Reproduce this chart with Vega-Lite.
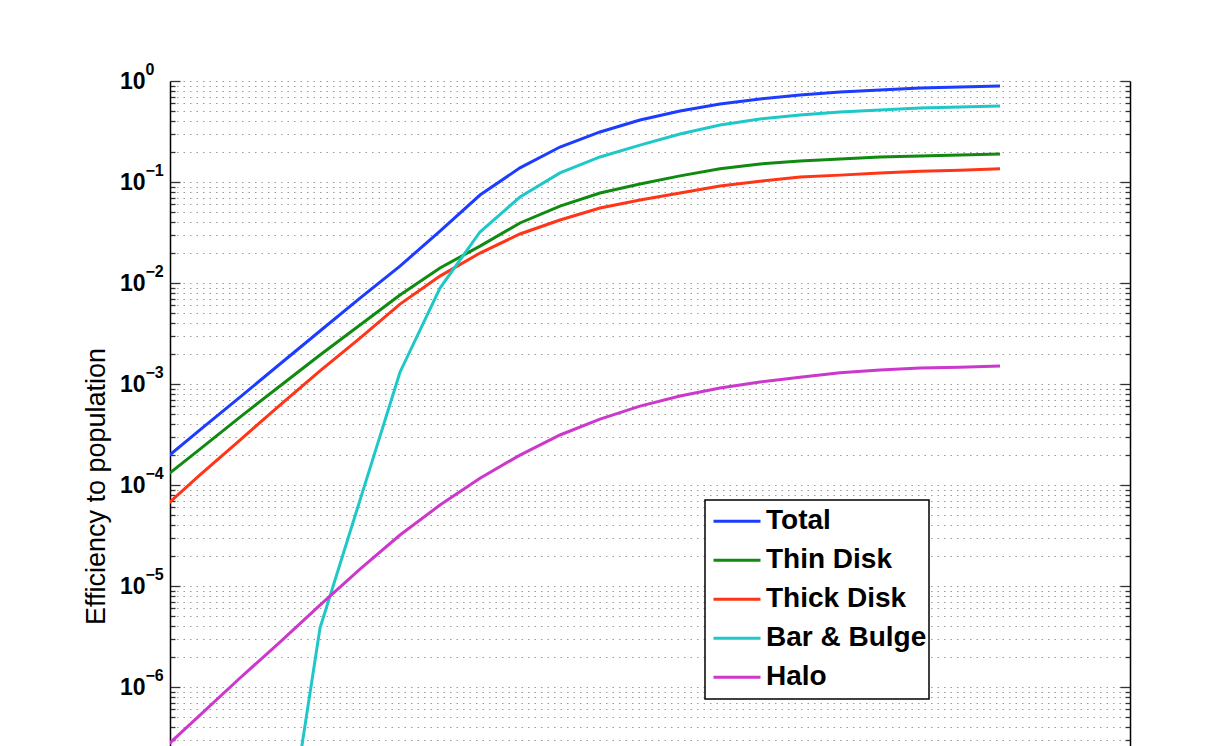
{
  "$schema": "https://vega.github.io/schema/vega-lite/v6.json",
  "width": 960,
  "height": 665,
  "autosize": {"type": "none"},
  "padding": {"left": 170, "top": 81, "right": 96, "bottom": 0},
  "background": "white",
  "config": {
    "view": {"stroke": null},
    "axis": {"labelFont": "Liberation Sans", "titleFont": "Liberation Sans"},
    "legend": {
      "orient": "none",
      "legendX": 535,
      "legendY": 419,
      "title": null,
      "strokeColor": "black",
      "strokeWidth": 1.5,
      "fillColor": "white",
      "padding": 2,
      "symbolType": "stroke",
      "symbolSize": 2209,
      "symbolStrokeWidth": 3,
      "clipHeight": 38.5,
      "rowPadding": 0,
      "labelFont": "Liberation Sans",
      "labelFontSize": 28,
      "labelFontWeight": "bold",
      "labelColor": "black",
      "symbolOffset": 5,
      "labelOffset": 4,
      "labelLimit": 400
    }
  },
  "data": {
    "values": [
      {"x": -0.0417, "Total": 1.65e-4, "Thin Disk": 1.10e-4, "Thick Disk": 5.53e-5, "Bar & Bulge": 3e-13, "Halo": 2.27e-7},
      {"x": 0.125, "Total": 3.51e-4, "Thin Disk": 2.27e-4, "Thick Disk": 1.26e-4, "Bar & Bulge": 1e-11, "Halo": 5.28e-7},
      {"x": 0.2917, "Total": 7.43e-4, "Thin Disk": 4.71e-4, "Thick Disk": 2.79e-4, "Bar & Bulge": 4e-10, "Halo": 1.23e-6},
      {"x": 0.4583, "Total": 1.58e-3, "Thin Disk": 9.55e-4, "Thick Disk": 6.19e-4, "Bar & Bulge": 1.02e-8, "Halo": 2.79e-6},
      {"x": 0.625, "Total": 3.35e-3, "Thin Disk": 1.94e-3, "Thick Disk": 1.35e-3, "Bar & Bulge": 3.84e-6, "Halo": 6.49e-6},
      {"x": 0.7917, "Total": 7.10e-3, "Thin Disk": 3.84e-3, "Thick Disk": 2.85e-3, "Bar & Bulge": 7.1e-5, "Halo": 1.47e-5},
      {"x": 0.9583, "Total": 1.47e-2, "Thin Disk": 7.60e-3, "Thick Disk": 6.19e-3, "Bar & Bulge": 1.31e-3, "Halo": 3.20e-5},
      {"x": 1.125, "Total": 3.27e-2, "Thin Disk": 1.41e-2, "Thick Disk": 1.17e-2, "Bar & Bulge": 8.92e-3, "Halo": 6.34e-5},
      {"x": 1.2917, "Total": 7.43e-2, "Thin Disk": 2.32e-2, "Thick Disk": 1.98e-2, "Bar & Bulge": 3.20e-2, "Halo": 1.17e-4},
      {"x": 1.4583, "Total": 0.138, "Thin Disk": 3.93e-2, "Thick Disk": 3.06e-2, "Bar & Bulge": 7.10e-2, "Halo": 1.98e-4},
      {"x": 1.625, "Total": 0.222, "Thin Disk": 5.78e-2, "Thick Disk": 4.21e-2, "Bar & Bulge": 0.123, "Halo": 3.13e-4},
      {"x": 1.7917, "Total": 0.313, "Thin Disk": 7.78e-2, "Thick Disk": 5.53e-2, "Bar & Bulge": 0.177, "Halo": 4.50e-4},
      {"x": 1.9583, "Total": 0.411, "Thin Disk": 9.55e-2, "Thick Disk": 6.64e-2, "Bar & Bulge": 0.232, "Halo": 6.05e-4},
      {"x": 2.125, "Total": 0.505, "Thin Disk": 0.115, "Thick Disk": 7.78e-2, "Bar & Bulge": 0.299, "Halo": 7.60e-4},
      {"x": 2.2917, "Total": 0.592, "Thin Disk": 0.135, "Thick Disk": 9.12e-2, "Bar & Bulge": 0.367, "Halo": 9.12e-4},
      {"x": 2.4583, "Total": 0.664, "Thin Disk": 0.151, "Thick Disk": 0.102, "Bar & Bulge": 0.421, "Halo": 1.05e-3},
      {"x": 2.625, "Total": 0.727, "Thin Disk": 0.161, "Thick Disk": 0.112, "Bar & Bulge": 0.461, "Halo": 1.17e-3},
      {"x": 2.7917, "Total": 0.778, "Thin Disk": 0.169, "Thick Disk": 0.117, "Bar & Bulge": 0.493, "Halo": 1.29e-3},
      {"x": 2.9583, "Total": 0.815, "Thin Disk": 0.177, "Thick Disk": 0.123, "Bar & Bulge": 0.516, "Halo": 1.38e-3},
      {"x": 3.125, "Total": 0.853, "Thin Disk": 0.181, "Thick Disk": 0.128, "Bar & Bulge": 0.541, "Halo": 1.44e-3},
      {"x": 3.2917, "Total": 0.873, "Thin Disk": 0.185, "Thick Disk": 0.131, "Bar & Bulge": 0.553, "Halo": 1.47e-3},
      {"x": 3.4583, "Total": 0.892, "Thin Disk": 0.189, "Thick Disk": 0.135, "Bar & Bulge": 0.566, "Halo": 1.51e-3}
    ]
  },
  "transform": [
    {"fold": ["Total", "Thin Disk", "Thick Disk", "Bar & Bulge", "Halo"], "as": ["series", "value"]}
  ],
  "layer": [
    {
      "mark": {"type": "line", "strokeWidth": 3, "clip": true},
      "encoding": {
        "x": {
          "field": "x", "type": "quantitative",
          "scale": {"domain": [0, 4], "nice": false, "zero": false},
          "axis": {
            "orient": "top", "values": [0, 1, 2, 3, 4], "labels": false, "title": null,
            "domainColor": "black", "domainWidth": 1.5,
            "tickSize": -9, "tickColor": "#333333", "tickWidth": 1.5,
            "grid": true, "gridColor": "#9a9a9a", "gridDash": [1.5, 5], "gridWidth": 1.2
          }
        },
        "y": {
          "field": "value", "type": "quantitative",
          "scale": {"type": "log", "domain": [2.61e-7, 1], "nice": false},
          "axis": {
            "orient": "left",
            "values": [3e-7,4e-7,5e-7,6e-7,7e-7,8e-7,9e-7,1e-6,2e-6,3e-6,4e-6,5e-6,6e-6,7e-6,8e-6,9e-6,1e-5,2e-5,3e-5,4e-5,5e-5,6e-5,7e-5,8e-5,9e-5,0.0001,0.0002,0.0003,0.0004,0.0005,0.0006,0.0007,0.0008,0.0009,0.001,0.002,0.003,0.004,0.005,0.006,0.007,0.008,0.009,0.01,0.02,0.03,0.04,0.05,0.06,0.07,0.08,0.09,0.1,0.2,0.3,0.4,0.5,0.6,0.7,0.8,0.9,1],
            "grid": true, "gridColor": "#9a9a9a", "gridDash": [1.5, 5], "gridWidth": 1.2,
            "domainColor": "black", "domainWidth": 1.5,
            "tickColor": "#333333", "tickWidth": 1.3,
            "tickSize": {"condition": {"test": "abs(log(datum.value)/LN10 - round(log(datum.value)/LN10)) < 0.01", "value": -10}, "value": -5},
            "labelExpr": "abs(log(datum.value)/LN10 - round(log(datum.value)/LN10)) < 0.01 ? '10' : ''",
            "labelFontSize": 23, "labelFontWeight": "bold", "labelColor": "black",
            "labelPadding": 35, "labelBaseline": "middle", "labelOverlap": false, "labelBound": false, "labelFlush": false,
            "title": "Efficiency to population", "titleFontSize": 27, "titleFontWeight": "normal", "titleColor": "black",
            "titleX": -66, "titleY": 405, "titleAngle": -90, "titleAlign": "center", "titleBaseline": "alphabetic"
          }
        },
        "color": {
          "field": "series", "type": "nominal",
          "scale": {
            "domain": ["Total", "Thin Disk", "Thick Disk", "Bar & Bulge", "Halo"],
            "range": ["#1c3cff", "#108a10", "#ff3518", "#1fc8c8", "#cc38cc"]
          },
          "legend": {}
        }
      }
    },
    {
      "mark": {"type": "point", "opacity": 0},
      "encoding": {
        "x": {"field": "x", "type": "quantitative", "axis": null},
        "y": {
          "field": "value", "type": "quantitative",
          "scale": {"type": "log", "domain": [2.61e-7, 1], "nice": false},
          "axis": {
            "orient": "left",
            "values": [1e-6, 1e-5, 0.0001, 0.001, 0.01, 0.1, 1],
            "ticks": false, "grid": false, "domain": false, "title": null,
            "labelExpr": "['0','−1','−2','−3','−4','−5','−6'][-round(log(datum.value)/LN10)]",
            "labelFontSize": 16, "labelFontWeight": "bold", "labelColor": "black",
            "labelAlign": "left", "labelPadding": 25, "labelBaseline": "alphabetic", "labelOffset": -7,
            "labelOverlap": false, "labelBound": false, "labelFlush": false
          }
        }
      }
    },
    {
      "mark": {"type": "point", "opacity": 0},
      "encoding": {
        "x": {"field": "x", "type": "quantitative", "axis": null},
        "y": {
          "field": "value", "type": "quantitative",
          "scale": {"type": "log", "domain": [2.61e-7, 1], "nice": false},
          "axis": {
            "orient": "right",
            "values": [3e-7,4e-7,5e-7,6e-7,7e-7,8e-7,9e-7,1e-6,2e-6,3e-6,4e-6,5e-6,6e-6,7e-6,8e-6,9e-6,1e-5,2e-5,3e-5,4e-5,5e-5,6e-5,7e-5,8e-5,9e-5,0.0001,0.0002,0.0003,0.0004,0.0005,0.0006,0.0007,0.0008,0.0009,0.001,0.002,0.003,0.004,0.005,0.006,0.007,0.008,0.009,0.01,0.02,0.03,0.04,0.05,0.06,0.07,0.08,0.09,0.1,0.2,0.3,0.4,0.5,0.6,0.7,0.8,0.9,1],
            "labels": false, "grid": false, "title": null,
            "domainColor": "black", "domainWidth": 1.5,
            "tickColor": "#333333", "tickWidth": 1.3,
            "tickSize": {"condition": {"test": "abs(log(datum.value)/LN10 - round(log(datum.value)/LN10)) < 0.01", "value": -10}, "value": -5}
          }
        }
      }
    }
  ],
  "resolve": {"axis": {"y": "independent"}}
}
